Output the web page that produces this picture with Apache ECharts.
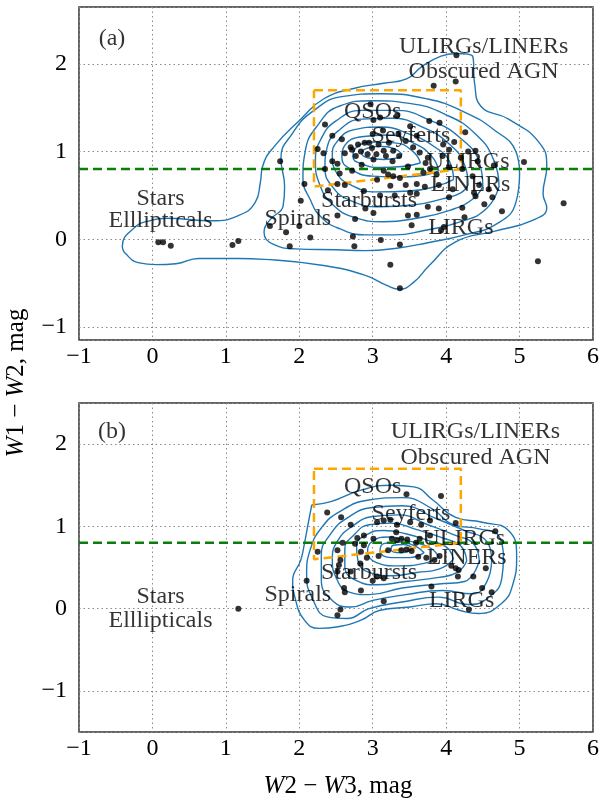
<!DOCTYPE html>
<html>
<head>
<meta charset="utf-8">
<script src="https://cdn.jsdelivr.net/npm/echarts@6/dist/echarts.min.js"></script>
<style>
  html, body { margin: 0; padding: 0; background: #fff; }
  #chart { width: 602px; height: 800px; }
</style>
</head>
<body>
<div id="chart"></div>
<script>
// ---- WISE colour-colour diagram: W2-W3 vs W1-W2 ----

const xTickValues = [-1, 0, 1, 2, 3, 4, 5, 6];
const yTickValues = [-1, 0, 1, 2];

// Sample (a): [W2-W3, W1-W2]
const pointsA = [
  [0.08,-0.035],[0.145,-0.035],[0.25,-0.075],[1.09,-0.066],[1.17,-0.02],
  [3.83,1.75],[4.13,1.80],[4.14,2.10],[2.97,1.54],[2.35,1.31],[3.01,1.36],[3.10,1.39],[3.33,1.41],
  [3.51,1.29],[3.77,1.35],[3.91,1.33],[3.14,1.24],[4.26,1.22],[4.11,1.11],[3.96,1.08],
  [2.58,1.14],[2.25,1.03],[2.33,0.98],[2.70,1.05],[2.80,1.08],[2.89,1.10],[2.84,1.00],
  [2.99,1.04],[3.05,0.97],[3.01,0.91],[3.15,1.01],[3.28,1.01],[3.36,0.95],[3.27,0.89],
  [3.64,0.99],[3.75,0.93],[3.72,0.87],[4.04,1.02],[4.40,1.01],[4.43,0.89],[2.45,0.89],
  [2.52,0.86],[2.35,0.80],[1.74,0.89],[2.72,0.78],[2.85,0.85],[3.21,0.74],[3.28,0.72],
  [3.37,0.70],[3.48,0.83],[3.78,0.80],[3.69,0.76],[3.87,0.74],[4.04,0.82],[4.22,0.80],
  [4.36,0.72],[4.65,0.84],[5.06,0.88],[3.06,0.68],[3.24,0.61],[3.60,0.63],[3.71,0.60],
  [3.51,0.53],[3.60,0.52],[4.09,0.57],[4.38,0.53],[4.58,0.57],[4.04,0.48],[4.22,0.36],
  [4.40,0.49],[4.63,0.48],[4.76,0.32],[4.52,0.40],[2.07,0.63],[2.39,0.56],[2.52,0.63],
  [2.88,0.55],[2.02,0.44],[2.52,0.27],[2.76,0.23],[3.01,0.30],[3.48,0.27],[3.60,0.28],
  [3.53,0.16],[3.75,0.37],[3.93,0.10],[3.97,0.14],[1.60,0.15],[1.82,0.08],[2.00,0.15],
  [2.15,0.02],[1.87,-0.08],[2.73,0.03],[2.75,-0.08],[3.11,-0.01],[3.37,-0.06],[3.24,-0.29],
  [3.37,-0.56],[5.25,-0.25],[5.60,0.41],
  [2.72,1.02],[2.77,0.95],[2.93,0.97],[3.08,1.08],[3.18,0.95],[2.95,1.10],[3.22,1.10],
  [2.62,0.98],[3.45,1.12],[3.55,1.05],[3.00,1.20],[3.35,1.20],[3.60,1.18],[2.45,1.18],
  [2.55,0.75],[2.62,0.62],[3.15,0.78],[3.95,0.95],[4.20,0.93],[4.30,1.00],[3.90,0.62],
  [3.45,0.62],[3.30,0.50],[3.10,0.50],[2.90,0.35],[4.25,0.25],[4.45,0.62],[3.90,0.35]
];

// Sample (b): [W2-W3, W1-W2]
const pointsB = [
  [1.17,0.00],[2.10,0.34],[3.46,1.39],[3.93,1.37],[2.38,1.17],[2.57,1.11],[2.70,1.02],
  [3.06,1.05],[3.15,1.07],[3.24,1.08],[3.33,1.02],[3.51,1.05],[3.66,1.02],[3.78,1.07],
  [4.13,1.04],[4.67,0.94],[3.32,0.93],[3.26,0.85],[3.33,0.83],[3.39,0.85],[3.47,0.84],
  [3.59,0.80],[3.64,0.85],[3.78,0.89],[3.01,0.85],[2.88,0.89],[2.79,0.86],[2.76,0.79],
  [2.59,0.80],[2.52,0.71],[2.25,0.69],[2.88,0.77],[2.84,0.69],[2.92,0.62],[3.08,0.64],
  [3.21,0.71],[3.39,0.71],[3.46,0.72],[3.53,0.70],[3.62,0.63],[3.73,0.62],[3.84,0.59],
  [3.91,0.64],[4.07,0.52],[4.13,0.49],[4.17,0.47],[4.37,0.39],[4.54,0.49],[4.49,0.25],
  [4.31,-0.01],[3.80,0.27],[2.56,0.59],[2.54,0.53],[2.52,0.45],[2.83,0.55],[3.06,0.39],
  [3.15,0.37],[2.61,0.25],[2.62,0.20],[2.84,0.22],[3.15,0.09],[2.56,-0.01],[2.52,-0.08],
  [4.16,0.39],[4.62,0.20],[3.00,0.34],[2.70,0.45]
];

// Density contours of sample (a), outermost first
const contoursA = [
  [[4.13,2.12],[4.36,2.09],[4.39,1.76],[4.47,1.52],[4.85,1.37],[5.27,1.10],[5.37,0.83],[5.32,0.52],
   [5.37,0.36],[5.16,0.21],[4.65,0.09],[4.13,-0.03],[3.77,-0.30],[3.56,-0.49],[3.36,-0.57],[3.20,-0.53],
   [2.89,-0.41],[2.33,-0.30],[1.53,-0.23],[1.17,-0.22],[0.63,-0.22],[0.32,-0.28],[0.05,-0.29],
   [-0.18,-0.27],[-0.36,-0.17],[-0.41,-0.08],[-0.22,0.15],[-0.04,0.21],[0.18,0.24],[0.81,0.21],
   [1.17,0.27],[1.40,0.42],[1.47,0.65],[1.50,0.83],[1.66,1.06],[2.02,1.37],[2.33,1.60],[2.74,1.72],
   [3.15,1.78],[3.46,1.83],[3.67,1.97],[3.93,2.09],[4.13,2.12]],
  [[5.00,0.75],[4.95,1.00],[4.65,1.25],[4.25,1.45],[3.75,1.60],[3.10,1.66],[2.60,1.63],[2.20,1.47],
   [1.90,1.20],[1.75,0.92],[1.80,0.60],[1.78,0.38],[1.60,0.22],[1.52,0.08],[1.65,-0.06],[1.95,-0.11],
   [2.50,-0.12],[2.90,-0.13],[3.35,-0.10],[3.75,-0.04],[4.25,0.05],[4.70,0.18],[4.95,0.42],[5.00,0.75]],
  [[4.72,0.60],[4.65,0.90],[4.40,1.20],[4.00,1.42],[3.50,1.55],[3.00,1.58],[2.55,1.52],[2.25,1.30],
   [2.08,1.00],[2.05,0.70],[2.15,0.45],[2.30,0.25],[2.55,0.12],[2.90,0.05],[3.30,0.05],[3.70,0.10],
   [4.20,0.20],[4.55,0.35],[4.72,0.60]],
  [[4.50,0.60],[4.45,0.88],[4.20,1.15],[3.80,1.35],[3.30,1.47],[2.85,1.47],[2.50,1.35],[2.30,1.15],
   [2.22,0.90],[2.28,0.62],[2.45,0.40],[2.75,0.25],[3.15,0.20],[3.60,0.24],[4.05,0.33],[4.35,0.45],[4.50,0.60]],
  [[4.30,0.62],[4.25,0.85],[4.05,1.08],[3.70,1.27],[3.25,1.38],[2.85,1.37],[2.55,1.25],[2.38,1.05],
   [2.35,0.82],[2.45,0.60],[2.70,0.44],[3.10,0.37],[3.55,0.39],[3.95,0.46],[4.20,0.53],[4.30,0.62]],
  [[4.10,0.68],[4.05,0.88],[3.85,1.05],[3.50,1.20],[3.10,1.28],[2.75,1.25],[2.52,1.12],[2.45,0.95],
   [2.50,0.77],[2.70,0.62],[3.05,0.54],[3.50,0.55],[3.85,0.60],[4.10,0.68]],
  [[3.90,0.78],[3.80,0.95],[3.55,1.10],[3.20,1.19],[2.85,1.17],[2.62,1.07],[2.58,0.93],[2.70,0.80],
   [3.00,0.72],[3.40,0.71],[3.70,0.73],[3.90,0.78]],
  [[3.65,0.87],[3.55,1.00],[3.30,1.10],[3.00,1.11],[2.77,1.04],[2.73,0.94],[2.85,0.86],[3.10,0.82],
   [3.40,0.83],[3.65,0.87]],
  [[3.40,0.97],[3.30,1.03],[3.10,1.06],[2.90,1.03],[2.85,0.98],[2.93,0.93],[3.15,0.91],[3.35,0.93],[3.40,0.97]]
];

// Density contours of sample (b), outermost first
const contoursB = [
  [[2.17,1.26],[2.43,1.30],[2.84,1.44],[3.25,1.50],[3.56,1.48],[3.82,1.32],[4.13,1.11],[4.49,1.05],
   [4.85,0.95],[4.96,0.63],[4.91,0.30],[4.75,0.06],[4.44,-0.06],[4.18,-0.02],[3.87,0.06],[3.51,0.02],
   [3.10,-0.02],[2.84,-0.14],[2.53,-0.22],[2.27,-0.24],[2.07,-0.14],[1.94,0.14],[1.91,0.34],[2.02,0.59],
   [2.07,0.79],[2.12,1.03],[2.17,1.26]],
  [[4.78,0.62],[4.72,0.88],[4.45,0.97],[4.10,1.02],[3.80,1.22],[3.40,1.35],[2.95,1.32],[2.55,1.18],
   [2.30,0.98],[2.15,0.72],[2.10,0.42],[2.18,0.12],[2.38,-0.10],[2.65,-0.12],[2.95,0.00],[3.40,0.08],
   [3.90,0.14],[4.30,0.05],[4.60,0.15],[4.76,0.38],[4.78,0.62]],
  [[4.62,0.60],[4.55,0.82],[4.25,0.95],[3.85,1.10],[3.40,1.25],[3.00,1.23],[2.65,1.10],[2.42,0.90],
   [2.30,0.65],[2.30,0.35],[2.45,0.10],[2.70,0.02],[3.00,0.10],[3.45,0.17],[3.95,0.22],[4.35,0.18],
   [4.55,0.32],[4.62,0.60]],
  [[4.45,0.58],[4.38,0.78],[4.10,0.90],[3.75,1.02],[3.35,1.14],[3.00,1.12],[2.72,1.00],[2.52,0.82],
   [2.45,0.60],[2.50,0.38],[2.68,0.20],[2.95,0.17],[3.40,0.25],[3.90,0.30],[4.25,0.33],[4.45,0.58]],
  [[4.28,0.58],[4.20,0.76],[3.95,0.86],[3.60,0.96],[3.25,1.04],[2.95,1.02],[2.75,0.90],[2.62,0.72],
   [2.62,0.52],[2.78,0.34],[3.05,0.29],[3.45,0.33],[3.90,0.38],[4.15,0.44],[4.28,0.58]],
  [[4.10,0.60],[4.00,0.75],[3.75,0.83],[3.45,0.91],[3.15,0.95],[2.92,0.90],[2.78,0.76],[2.80,0.58],
   [2.95,0.44],[3.25,0.40],[3.60,0.44],[3.90,0.48],[4.10,0.60]],
  [[3.90,0.63],[3.78,0.74],[3.50,0.82],[3.20,0.87],[3.00,0.82],[2.93,0.70],[3.05,0.56],[3.35,0.52],
   [3.70,0.55],[3.90,0.63]],
  [[3.70,0.68],[3.58,0.76],[3.35,0.81],[3.15,0.79],[3.10,0.70],[3.25,0.62],[3.50,0.62],[3.70,0.68]],
  [[3.55,0.73],[3.42,0.78],[3.28,0.77],[3.25,0.72],[3.38,0.68],[3.55,0.73]]
];

// Jarrett et al. (2011) AGN box and the W1-W2 = 0.8 cut
const jarrettBox = [[2.2,1.7],[4.2,1.7],[4.2,0.8],[2.2,0.6],[2.2,1.7]];
const sternCut = [[-1,0.8],[6,0.8]];

// Class labels: [W2-W3, W1-W2, text]
const labelsA = [
  [-0.55,2.29,'(a)'],
  [4.51,2.20,'ULIRGs/LINERs'],[4.51,1.91,'Obscured AGN'],
  [3.00,1.45,'QSOs'],[3.52,1.18,'Seyferts'],[4.30,0.88,'ULIRGs'],[4.33,0.62,'LINERs'],
  [2.95,0.44,'Starbursts'],[1.98,0.23,'Spirals'],[4.20,0.13,'LIRGs'],
  [0.11,0.46,'Stars'],[0.11,0.21,'Elllipticals']
];
const labelsB = [
  [-0.55,2.15,'(b)'],
  [4.40,2.15,'ULIRGs/LINERs'],[4.40,1.84,'Obscured AGN'],
  [3.00,1.48,'QSOs'],[3.52,1.16,'Seyferts'],[4.24,0.85,'ULIRGs'],[4.28,0.62,'LINERs'],
  [2.95,0.44,'Starbursts'],[1.98,0.17,'Spirals'],[4.21,0.10,'LIRGs'],
  [0.11,0.15,'Stars'],[0.11,-0.15,'Elllipticals']
];

const FONT = 'Liberation Serif';
const INK = '#000';
const CONTOUR = '#1f77b4';

const minus = v => (v < 0 ? '\u2212' + Math.abs(v) : String(v));

function xAxisFor(gridIndex) {
  return {
    gridIndex, type: 'value', min: -1, max: 6, interval: 1,
    axisLine: { show: false }, axisTick: { show: false },
    axisLabel: { fontFamily: FONT, fontSize: 24, color: INK, margin: 5,
      formatter: v => (xTickValues.includes(v) ? minus(v) : '') },
    splitLine: { show: true, lineStyle: { color: '#8a8a8a', type: [1.5, 3], width: 1 } }
  };
}
function yAxisFor(gridIndex, min, max) {
  return {
    gridIndex, type: 'value', min, max, splitNumber: 4,
    axisLine: { show: false }, axisTick: { show: false },
    axisLabel: { fontFamily: FONT, fontSize: 24, color: INK, margin: 12,
      showMinLabel: false, showMaxLabel: false,
      formatter: v => (yTickValues.includes(v) ? minus(v) : '') },
    splitLine: { show: true, lineStyle: { color: '#8a8a8a', type: [1.5, 3], width: 1 } }
  };
}

function panelSeries(idx, points, contours, labels) {
  const out = [];
  contours.forEach(c => out.push({
    type: 'line', xAxisIndex: idx, yAxisIndex: idx, data: c, smooth: 0.5,
    showSymbol: false, silent: true, z: 2,
    lineStyle: { color: CONTOUR, width: 1.4 }
  }));
  out.push({
    type: 'line', xAxisIndex: idx, yAxisIndex: idx, data: sternCut, showSymbol: false, z: 3,
    lineStyle: { color: '#0a7d0a', width: 2.5, type: [9, 5] }
  });
  out.push({
    type: 'line', xAxisIndex: idx, yAxisIndex: idx, data: jarrettBox, showSymbol: false, z: 3,
    lineStyle: { color: '#ffa500', width: 2.5, type: [9, 5] }
  });
  out.push({
    type: 'scatter', xAxisIndex: idx, yAxisIndex: idx, data: points, z: 4,
    symbolSize: 6, itemStyle: { color: '#000' }
  });
  out.push({
    type: 'scatter', xAxisIndex: idx, yAxisIndex: idx, data: labels, z: 5, symbolSize: 0,
    label: { show: true, position: 'inside', formatter: p => p.value[2],
      fontFamily: FONT, fontSize: 24, color: INK }
  });
  return out;
}

const chart = echarts.init(document.getElementById('chart'), null, { renderer: 'canvas' });
chart.setOption({
  animation: false,
  backgroundColor: '#fff',
  grid: [
    { left: 79, top: 7, width: 519, height: 333, show: true, borderColor: '#333', borderWidth: 1.5, backgroundColor: 'transparent' },
    { left: 79, top: 403, width: 519, height: 329, show: true, borderColor: '#333', borderWidth: 1.5, backgroundColor: 'transparent' }
  ],
  xAxis: [xAxisFor(0), xAxisFor(1)],
  yAxis: [yAxisFor(0, -1.15, 2.65), yAxisFor(1, -1.5, 2.5)],
  series: [
    ...panelSeries(0, pointsA, contoursA, labelsA),
    ...panelSeries(1, pointsB, contoursB, labelsB)
  ],
  graphic: [
    { type: 'text', x: 4, y: 383, rotation: Math.PI / 2, z: 10,
      style: { text: '{i|W}1 \u2212 {i|W}2, mag', font: '25px "Liberation Serif"', fill: INK,
        align: 'center', verticalAlign: 'top',
        rich: { i: { fontStyle: 'italic', fontFamily: FONT, fontSize: 25 } } } },
    { type: 'text', x: 338, y: 786, z: 10,
      style: { text: '{i|W}2 \u2212 {i|W}3, mag', font: '25px "Liberation Serif"', fill: INK,
        align: 'center', verticalAlign: 'middle',
        rich: { i: { fontStyle: 'italic', fontFamily: FONT, fontSize: 25 } } } }
  ]
});
</script>
</body>
</html>
